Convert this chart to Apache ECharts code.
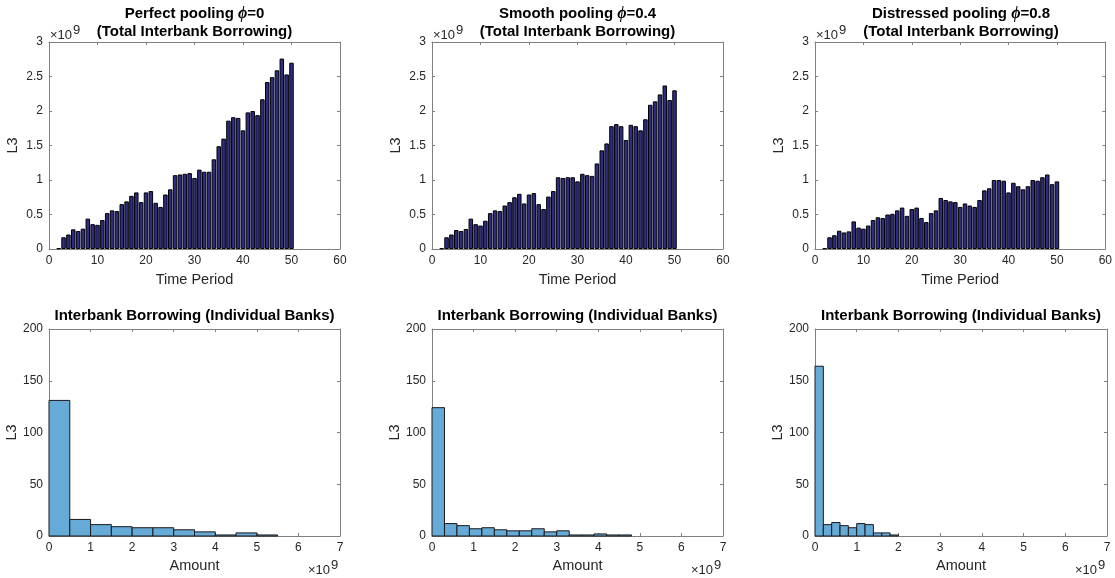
<!DOCTYPE html>
<html>
<head>
<meta charset="utf-8">
<title>Interbank Borrowing</title>
<script src="https://cdn.jsdelivr.net/npm/echarts@6/dist/echarts.min.js"></script>
<style>
  html, body { margin: 0; padding: 0; background: #fff; }
  #chart { width: 1115px; height: 578px; }
</style>
</head>
<body>
<div id="chart"></div>
<script>
// time periods of the top row (values are in units of 1e9)
var periods = [2, 3, 4, 5, 6, 7, 8, 9, 10, 11, 12, 13, 14, 15, 16, 17, 18, 19, 20, 21, 22, 23, 24, 25, 26,
  27, 28, 29, 30, 31, 32, 33, 34, 35, 36, 37, 38, 39, 40, 41, 42, 43, 44, 45, 46, 47, 48, 49, 50];

var totalPerfect = [0.01, 0.17, 0.21, 0.285, 0.26, 0.295, 0.44, 0.36, 0.35, 0.42, 0.52, 0.56, 0.55, 0.65, 0.69,
  0.77, 0.82, 0.68, 0.82, 0.84, 0.67, 0.61, 0.79, 0.865, 1.07, 1.08, 1.09, 1.10, 1.03, 1.15, 1.12, 1.12,
  1.30, 1.49, 1.60, 1.86, 1.91, 1.90, 1.72, 1.98, 2.00, 1.94, 2.17, 2.42, 2.49, 2.59, 2.76, 2.53, 2.70];

var totalSmooth = [0.01, 0.17, 0.21, 0.275, 0.26, 0.29, 0.44, 0.36, 0.34, 0.41, 0.52, 0.56, 0.55, 0.63, 0.68,
  0.75, 0.80, 0.66, 0.79, 0.81, 0.65, 0.58, 0.76, 0.84, 1.04, 1.03, 1.04, 1.04, 0.98, 1.09, 1.07, 1.06,
  1.24, 1.43, 1.53, 1.78, 1.81, 1.78, 1.58, 1.80, 1.78, 1.72, 1.88, 2.09, 2.14, 2.24, 2.37, 2.16, 2.30];

var totalDistressed = [0.01, 0.17, 0.20, 0.265, 0.24, 0.255, 0.40, 0.31, 0.295, 0.34, 0.42, 0.46, 0.45, 0.50, 0.51,
  0.56, 0.60, 0.48, 0.58, 0.60, 0.45, 0.39, 0.52, 0.56, 0.74, 0.71, 0.69, 0.68, 0.61, 0.66, 0.63, 0.61,
  0.71, 0.85, 0.88, 1.00, 1.00, 0.99, 0.82, 0.96, 0.91, 0.865, 0.91, 1.00, 0.99, 1.04, 1.08, 0.94, 0.98];

// histograms of individual bank borrowing (bin width in units of 1e9)
var binWidthPerfect = 0.5;
var countsPerfect = [131, 16, 11, 9, 8, 8, 6, 4, 1, 3, 1];
var binWidthSmooth = 0.3;
var countsSmooth = [124, 12, 10, 7, 8, 6, 5, 5, 7, 4, 5, 1, 1, 2, 1, 1];
var binWidthDistressed = 0.2;
var countsDistressed = [164, 11, 13, 10, 8, 12, 11, 3, 3, 1];

var topTitles = [
  '{b|Perfect pooling }{p|ϕ}{b|=0}\n{b|(Total Interbank Borrowing)}',
  '{b|Smooth pooling }{p|ϕ}{b|=0.4}\n{b|(Total Interbank Borrowing)}',
  '{b|Distressed pooling }{p|ϕ}{b|=0.8}\n{b|(Total Interbank Borrowing)}'
];
var bottomTitle = 'Interbank Borrowing (Individual Banks)';

var FONT = '"Liberation Sans", Arial, Helvetica, sans-serif';
var LINE = '#808080';
var TEXT = '#262626';
var BAR_COLOR = '#2e2b82';
var HIST_COLOR = '#66aad7';

var lefts = [49, 432, 815];
var widths = [291, 291, 292];
var tops = [42, 329];
var H = 207;

var chart = echarts.init(document.getElementById('chart'));

function pairs(xs, ys) {
  var out = [];
  for (var i = 0; i < ys.length; i++) out.push([xs[i], ys[i]]);
  return out;
}

function bins(width, counts) {
  var out = [];
  for (var i = 0; i < counts.length; i++) out.push([i * width, (i + 1) * width, counts[i]]);
  return out;
}

function mainXAxis(gi, max, interval, name) {
  return {
    type: 'value', gridIndex: gi, min: 0, max: max, interval: interval, position: 'bottom',
    name: name, nameLocation: 'middle', nameGap: 23,
    nameTextStyle: { fontFamily: FONT, fontSize: 14.5, color: TEXT },
    axisLine: { show: true, onZero: false, lineStyle: { color: LINE, width: 1 } },
    axisTick: { show: true, inside: true, length: 3, lineStyle: { color: LINE } },
    axisLabel: { fontFamily: FONT, fontSize: 12, color: TEXT, margin: 6 },
    splitLine: { show: false }
  };
}

function mirrorXAxis(gi, max, interval) {
  return {
    type: 'value', gridIndex: gi, min: 0, max: max, interval: interval, position: 'top',
    axisLine: { show: true, onZero: false, lineStyle: { color: LINE, width: 1 } },
    axisTick: { show: true, inside: true, length: 3, lineStyle: { color: LINE } },
    axisLabel: { show: false },
    splitLine: { show: false }
  };
}

function mainYAxis(gi, max, interval) {
  return {
    type: 'value', gridIndex: gi, min: 0, max: max, interval: interval, position: 'left',
    name: 'L3', nameLocation: 'middle', nameGap: 29,
    nameTextStyle: { fontFamily: FONT, fontSize: 14.5, color: TEXT },
    axisLine: { show: true, onZero: false, lineStyle: { color: LINE, width: 1 } },
    axisTick: { show: true, inside: true, length: 3, lineStyle: { color: LINE } },
    axisLabel: { fontFamily: FONT, fontSize: 12, color: TEXT, margin: 6 },
    splitLine: { show: false }
  };
}

function mirrorYAxis(gi, max, interval) {
  return {
    type: 'value', gridIndex: gi, min: 0, max: max, interval: interval, position: 'right',
    axisLine: { show: true, onZero: false, lineStyle: { color: LINE, width: 1 } },
    axisTick: { show: true, inside: true, length: 3, lineStyle: { color: LINE } },
    axisLabel: { show: false },
    splitLine: { show: false }
  };
}

function renderHist(params, api) {
  var p0 = api.coord([api.value(0), api.value(2)]);
  var p1 = api.coord([api.value(1), 0]);
  return {
    type: 'rect',
    shape: { x: p0[0], y: p0[1], width: p1[0] - p0[0], height: p1[1] - p0[1] },
    style: { fill: HIST_COLOR, stroke: '#1a1a1a', lineWidth: 1 }
  };
}

var grids = [], xAxes = [], yAxes = [], series = [], titles = [], graphics = [];
var totals = [totalPerfect, totalSmooth, totalDistressed];
var hists = [
  bins(binWidthPerfect, countsPerfect),
  bins(binWidthSmooth, countsSmooth),
  bins(binWidthDistressed, countsDistressed)
];

for (var c = 0; c < 3; c++) {
  var cx = lefts[c] + widths[c] / 2;

  // top row: total borrowing per period
  var g = grids.length;
  grids.push({ left: lefts[c], top: tops[0], width: widths[c], height: H });
  xAxes.push(mainXAxis(g, 60, 10, 'Time Period'));
  xAxes.push(mirrorXAxis(g, 60, 10));
  yAxes.push(mainYAxis(g, 3, 0.5));
  yAxes.push(mirrorYAxis(g, 3, 0.5));
  series.push({
    type: 'bar', xAxisIndex: xAxes.length - 2, yAxisIndex: yAxes.length - 2,
    data: pairs(periods, totals[c]), barWidth: 4.5, silent: true,
    itemStyle: { color: BAR_COLOR, borderColor: '#000', borderWidth: 1 }
  });
  titles.push({
    text: topTitles[c], left: cx, top: 5, textAlign: 'center', padding: 0,
    textStyle: {
      fontFamily: FONT, lineHeight: 18,
      rich: {
        b: { fontFamily: FONT, fontSize: 15, fontWeight: 'bold', color: '#000', lineHeight: 18 },
        p: { fontFamily: 'serif', fontSize: 16, fontStyle: 'italic', color: '#000', lineHeight: 18 }
      }
    }
  });
  graphics.push({ type: 'text', left: lefts[c] + 1, top: 29,
    style: { text: '×10', font: '13px ' + FONT, fill: TEXT } });
  graphics.push({ type: 'text', left: lefts[c] + 24, top: 24,
    style: { text: '9', font: '13px ' + FONT, fill: TEXT } });

  // bottom row: histogram of individual banks
  g = grids.length;
  grids.push({ left: lefts[c], top: tops[1], width: widths[c], height: H });
  var ax = mainXAxis(g, 7, 1, 'Amount');
  ax.nameGap = 22;
  xAxes.push(ax);
  xAxes.push(mirrorXAxis(g, 7, 1));
  yAxes.push(mainYAxis(g, 200, 50));
  yAxes.push(mirrorYAxis(g, 200, 50));
  series.push({
    type: 'custom', xAxisIndex: xAxes.length - 2, yAxisIndex: yAxes.length - 2,
    data: hists[c], renderItem: renderHist, silent: true,
    encode: { x: [0, 1], y: 2 }
  });
  titles.push({
    text: bottomTitle, left: cx, top: 307, textAlign: 'center', padding: 0,
    textStyle: { fontFamily: FONT, fontSize: 15, fontWeight: 'bold', color: '#000', lineHeight: 18 }
  });
  var rx = lefts[c] + widths[c];
  graphics.push({ type: 'text', left: rx - 32, top: 564,
    style: { text: '×10', font: '13px ' + FONT, fill: TEXT } });
  graphics.push({ type: 'text', left: rx - 9, top: 559,
    style: { text: '9', font: '13px ' + FONT, fill: TEXT } });
}

chart.setOption({
  backgroundColor: '#fff',
  animation: false,
  title: titles,
  grid: grids,
  xAxis: xAxes,
  yAxis: yAxes,
  series: series,
  graphic: graphics
});
</script>
</body>
</html>
